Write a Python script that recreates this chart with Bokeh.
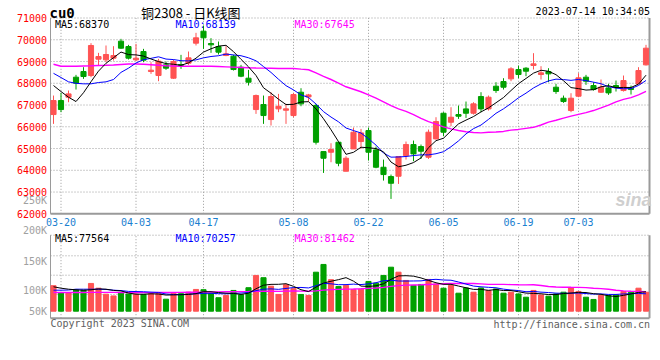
from bokeh.plotting import figure
from bokeh.models import Range1d, Label, ColumnDataSource
from bokeh.core.properties import value
from bokeh.embed import file_html
from bokeh.resources import INLINE

# ---------------- data ----------------
dates = ["03-17", "03-20", "03-21", "03-22", "03-23", "03-24", "03-27", "03-28", "03-29", "03-30", "03-31",
         "04-03", "04-04", "04-06", "04-07", "04-10", "04-11", "04-12", "04-13", "04-14",
         "04-17", "04-18", "04-19", "04-20", "04-21", "04-24", "04-25", "04-26", "04-27", "04-28",
         "05-04", "05-05", "05-08", "05-09", "05-10", "05-11", "05-12", "05-15", "05-16", "05-17", "05-18", "05-19",
         "05-22", "05-23", "05-24", "05-25", "05-26", "05-29", "05-30", "05-31", "06-01", "06-02",
         "06-05", "06-06", "06-07", "06-08", "06-09", "06-12", "06-13", "06-14", "06-15", "06-16",
         "06-19", "06-20", "06-21", "06-26", "06-27", "06-28", "06-29", "06-30",
         "07-03", "07-04", "07-05", "07-06", "07-07", "07-10", "07-11", "07-12", "07-13", "07-14"]

opens = [66562, 67206, 67359, 68279, 68540, 68356, 69107, 69076, 69153, 69935,
         69689, 69076, 69459, 68540, 68356, 68846, 68233, 68862, 68923, 69843,
         70394, 69827, 69689, 69275, 69245, 68739, 68233, 66792, 67022, 66332,
         66823, 66761, 66516, 67589, 67374, 66976, 64860, 64830, 65290, 63956,
         64983, 65321, 65826, 64937, 64140, 63711, 63726, 64677, 65183, 65091,
         64600, 65443, 66623, 66209, 66562, 66822, 66623, 67390, 66822, 67865,
         68080, 68202, 68631, 68693, 68816, 68402, 68540, 67819, 67313, 66746,
         67405, 68279, 67896, 67589, 67788, 67896, 67666, 67773, 67972, 68846]
highs = [67436, 67558, 67666, 68386, 68739, 69843, 69398, 69736, 69705, 70042,
         69766, 69812, 69582, 68969, 69122, 68999, 69092, 69306, 69459, 70318,
         70655, 70073, 69919, 69705, 69306, 68846, 68616, 67482, 67436, 67589,
         67512, 67053, 67558, 67773, 67512, 67053, 64860, 65244, 65321, 64646,
         65965, 65903, 65965, 65091, 64492, 63803, 64631, 65321, 65367, 65183,
         65872, 66439, 66669, 66899, 66976, 67160, 67129, 67589, 67436, 68049,
         68233, 68739, 68815, 68739, 69383, 68785, 68693, 67973, 67436, 67543,
         68463, 68386, 68049, 68172, 67973, 68126, 68356, 67896, 68739, 69766]
lows = [66133, 66670, 67129, 67712, 68202, 68279, 68816, 68969, 69046, 69582,
        69092, 69030, 68969, 68432, 68095, 68616, 68202, 68662, 68846, 69736,
        69582, 69398, 69322, 69245, 68586, 68279, 67896, 66593, 66133, 66056,
        66670, 66133, 66440, 66945, 67160, 65183, 63879, 64370, 64186, 63956,
        64983, 64983, 64447, 64094, 63527, 62684, 63373, 64492, 64416, 64523,
        64523, 65413, 65566, 66025, 66362, 66408, 66562, 66669, 66746, 67558,
        67712, 68095, 68233, 68325, 68632, 68172, 68049, 67512, 67099, 66669,
        67359, 67926, 67666, 67558, 67466, 67620, 67620, 67482, 67972, 68816]
closes = [67206, 66792, 67512, 68003, 68310, 69736, 69229, 69322, 69275, 69613,
          69153, 69153, 69061, 68601, 69015, 68693, 68999, 68816, 69168, 70088,
          70088, 69766, 69429, 69352, 68632, 68325, 68049, 67436, 66516, 67390,
          66945, 66823, 67482, 67053, 67466, 65290, 64554, 64952, 64324, 64554,
          65750, 65719, 64830, 64140, 63803, 63404, 64631, 65183, 64753, 64876,
          65750, 66240, 65750, 66439, 66485, 66623, 67053, 66822, 67359, 67666,
          67819, 68662, 68402, 68555, 68892, 68478, 68432, 67620, 67160, 67313,
          68249, 68095, 67712, 67819, 67558, 67819, 68126, 67712, 68586, 69613]

ma5 = [67896, 67620, 67359, 67160, 67565, 68071, 68558, 68920, 69174, 69435,
       69318, 69303, 69251, 69116, 68997, 68905, 68874, 68825, 68938, 69153,
       69432, 69585, 69708, 69745, 69453, 69101, 68757, 68359, 67792, 67543,
       67267, 67022, 67031, 67139, 67154, 66823, 66369, 65863, 65317, 64735,
       64827, 65060, 65035, 64999, 64848, 64379, 64162, 64232, 64355, 64569,
       65039, 65360, 65474, 65811, 66133, 66307, 66470, 66684, 66868, 67105,
       67344, 67666, 67982, 68221, 68466, 68598, 68552, 68395, 68116, 67801,
       67755, 67687, 67706, 67838, 67887, 67801, 67807, 67807, 67960, 68371]
ma10 = [68457, 68264, 68066, 67998, 67974, 67974, 68034, 68066, 68172, 68500,
        68695, 68931, 69086, 69145, 69216, 69112, 69089, 69038, 69027, 69075,
        69168, 69230, 69266, 69341, 69303, 69266, 69171, 69033, 68768, 68498,
        68184, 67890, 67695, 67465, 67349, 67045, 66696, 66447, 66228, 65944,
        65825, 65714, 65449, 65158, 64792, 64603, 64611, 64634, 64677, 64709,
        64709, 64761, 64853, 65083, 65351, 65673, 65915, 66079, 66340, 66619,
        66826, 67068, 67333, 67545, 67785, 67971, 68109, 68189, 68169, 68133,
        68176, 68120, 68051, 67977, 67844, 67778, 67747, 67756, 67899, 68129]
ma30 = [68876, 68784, 68784, 68784, 68793, 68802, 68816, 68825, 68839, 68862,
        68885, 68885, 68871, 68848, 68825, 68802, 68793, 68784, 68784, 68784,
        68784, 68780, 68770, 68755, 68740, 68725, 68710, 68700, 68695, 68691,
        68682, 68683, 68682, 68651, 68622, 68474, 68318, 68173, 68008, 67839,
        67726, 67611, 67470, 67321, 67148, 66971, 66826, 66705, 66558, 66384,
        66239, 66122, 65999, 65902, 65830, 65774, 65740, 65720, 65748, 65757,
        65786, 65848, 65878, 65928, 65976, 66082, 66212, 66300, 66395, 66487,
        66570, 66649, 66746, 66868, 66993, 67141, 67257, 67341, 67469, 67627]

# volume in thousands of lots
volumes = [102, 74, 74, 85, 84, 111, 92, 68, 61, 74,
           69, 68, 67, 70, 70, 48, 71, 70, 76, 87,
           86, 70, 54, 63, 83, 66, 94, 143, 134, 100,
           67, 106, 90, 67, 63, 156, 187, 126, 99, 103,
           86, 88, 119, 112, 143, 176, 156, 123, 103, 107,
           127, 109, 92, 103, 72, 93, 76, 93, 83, 89,
           72, 76, 69, 56, 83, 65, 60, 69, 76, 93,
           79, 56, 47, 63, 63, 65, 79, 76, 92, 76]
vol_ma5 = [97.6, 92, 88, 85.6, 83.8, 85.6, 89.2, 88, 83.2, 81.2,
           72.8, 68, 67.8, 69.6, 68.8, 64.6, 65.2, 65.8, 67, 70.4,
           78, 77.8, 74.6, 72, 71.2, 67.2, 72, 89.8, 104, 107.4,
           107.6, 110, 99.4, 86, 78.6, 96.4, 112.6, 119.8, 126.2, 134.2,
           120.2, 100.4, 99, 101.6, 109.6, 127.6, 141.2, 142, 140.2, 133,
           123.2, 113.8, 107.6, 107.6, 100.6, 93.8, 87.2, 87.4, 83.4, 86.8,
           82.6, 82.6, 77.8, 72.4, 71.2, 69.8, 66.6, 66.6, 70.6, 72.6,
           75.4, 74.6, 70.2, 67.6, 61.6, 58.8, 63.4, 69.2, 75, 77.6]
vol_ma10 = [84, 84, 84.7, 88, 88, 88, 88, 87, 84, 82.5,
            79.2, 78.6, 77.9, 76.4, 75, 68.7, 66.6, 66.8, 68.3, 69.6,
            71.3, 71.5, 70.2, 69.5, 70.8, 72.6, 74.9, 82.2, 88, 89.3,
            87.4, 91, 94.6, 95, 93, 102, 111.3, 109.6, 106.1, 106.4,
            108.3, 106.5, 109.4, 113.9, 121.9, 123.9, 120.8, 120.5, 120.9, 121.3,
            125.4, 127.5, 124.8, 123.9, 116.8, 108.5, 100.5, 97.5, 95.5, 93.7,
            88.2, 84.9, 82.6, 77.9, 79, 76.2, 74.6, 72.2, 71.5, 71.9,
            72.6, 70.6, 68.4, 69.1, 67.1, 67.1, 69, 69.7, 71.3, 69.6]
vol_ma30 = [75.0, 74.8, 74.6, 74.8, 75.0, 75.2, 75.4, 75.4, 75.2, 75.0,
            74.8, 74.6, 74.4, 74.4, 74.6, 74.8, 75.0, 75.2, 75.6, 76.0,
            76.4, 76.8, 77.2, 77.6, 78.0, 78.4, 78.8, 79.4, 80.0, 80.5,
            79.3, 80.4, 80.9, 80.3, 79.6, 81.1, 84.3, 86.2, 87.5, 88.4,
            89, 89.7, 91.4, 92.8, 95.2, 99.5, 102.3, 104.1, 105, 105.7,
            107, 108.3, 109.6, 110.9, 110.6, 111.5, 110.9, 109.2, 107.5, 107.1,
            107.3, 106.3, 105.6, 105.2, 105.9, 102.9, 98.6, 96.7, 96, 95.6,
            95.4, 94.3, 91.9, 90.3, 87.6, 83.9, 81.4, 79.8, 79.4, 78.4]

tick_labels = ["03-20", "04-03", "04-17", "05-08", "05-22", "06-05", "06-19", "07-03"]
price_ticks = [62000, 63000, 64000, 65000, 66000, 67000, 68000, 69000, 70000, 71000]
vol_axis_labels = ["250K", "200K", "150K", "100K", "50K"]

# ---------------- styling / layout helpers ----------------
UP = "#ff5353"
DOWN = "#00a000"
GRID = "#9a9a9a"
MONO = "DejaVu Sans Mono"
W, H = 652, 352

def xpx(px):          # pixel column -> bar index
    return (px - 53) / 7.5

def ay(py):           # pixel row -> price (price panel scale)
    return 71000 - (py - 17.5) * 9000.0 / 195.8

def bv(py):           # pixel row -> volume in K (volume panel scale)
    return (310.7 - py) * 4.0

x = list(range(len(dates)))
colors = [UP if c >= o else DOWN for o, c in zip(opens, closes)]
src = ColumnDataSource(dict(
    x=x, high=highs, low=lows,
    top=[max(o, c) for o, c in zip(opens, closes)],
    bottom=[min(o, c) for o, c in zip(opens, closes)],
    color=colors, vol=volumes,
    ma5=ma5, ma10=ma10, ma30=ma30,
    vma5=vol_ma5, vma10=vol_ma10, vma30=vol_ma30))

tick_pos = [dates.index(t) for t in tick_labels]
XL, XR = xpx(50), xpx(649)
P_LO, P_HI = price_ticks[0], price_ticks[-1]
V_TOP, V_BOT = bv(234.7), bv(317.7)
vol_grid = [bv(255.3), bv(274.7), bv(294.1)]
vol_label_y = [bv(200.3), bv(230.3), bv(261), bv(290.3), bv(311)]

p = figure(width=W, height=H, x_range=Range1d(xpx(0), xpx(W)), y_range=Range1d(ay(H), ay(0)),
           output_backend="svg", toolbar_location=None, title=None, min_border=0,
           x_axis_location=None, y_axis_location=None)
p.extra_y_ranges = {"vol": Range1d(bv(H), bv(0))}
p.outline_line_color = None
p.grid.grid_line_color = None

def seg(x0, y0, x1, y1, dash="solid", width=1, rng="default"):
    p.segment(x0=x0, y0=y0, x1=x1, y1=y1, line_color=GRID, line_width=width,
              line_dash=dash, y_range_name=rng)

# ---- price panel frame + grid ----
n = len(price_ticks)
seg([XL] * (n - 1), price_ticks[1:], [XR] * (n - 1), price_ticks[1:], dash="1 2")
seg(tick_pos, [P_LO] * len(tick_pos), tick_pos, [P_HI] * len(tick_pos), dash="1 2")
seg([XL], [P_LO], [XL], [P_HI], width=1)
seg([XR], [P_LO], [XR], [P_HI], width=2)
seg([XL], [P_LO], [XR], [P_LO], width=2)

# ---- volume panel frame + grid ----
seg([XL] * 4, [V_TOP] + vol_grid, [XR] * 4, [V_TOP] + vol_grid, dash="1 2", rng="vol")
seg(tick_pos, [V_BOT] * len(tick_pos), tick_pos, [V_TOP] * len(tick_pos), dash="1 2", rng="vol")
seg([XL], [V_BOT], [XL], [V_TOP], width=1, rng="vol")
seg([XR], [V_BOT], [XR], [V_TOP], width=2, rng="vol")
seg([XL], [V_BOT], [XR], [V_BOT], width=2, rng="vol")

# ---- candles ----
p.segment(x0="x", y0="high", x1="x", y1="low", line_color="color", line_width=1, source=src)
p.vbar(x="x", width=0.68, top="top", bottom="bottom", fill_color="color",
       line_color="color", line_width=1, source=src)
p.line("x", "ma30", line_color="#ff00ff", line_width=1.4, source=src)
p.line("x", "ma10", line_color="#0000ff", line_width=1, source=src)
p.line("x", "ma5", line_color="#000000", line_width=1, source=src)

# ---- volume ----
p.vbar(x="x", width=0.68, top="vol", bottom=0, fill_color="color", line_color="color",
       line_width=1, source=src, y_range_name="vol")
p.line("x", "vma30", line_color="#ff00ff", line_width=1.4, source=src, y_range_name="vol")
p.line("x", "vma10", line_color="#0000ff", line_width=1, source=src, y_range_name="vol")
p.line("x", "vma5", line_color="#000000", line_width=1, source=src, y_range_name="vol")

# ---- axis tick labels ----
p.text(x=[xpx(46.5)] * n, y=price_ticks, text=[str(t) for t in price_ticks],
       text_align="right", text_baseline="middle", text_color="#ff0000",
       text_font=value(MONO), text_font_size="10px")
p.text(x=tick_pos, y=[ay(221.5)] * len(tick_pos), text=tick_labels,
       text_align="center", text_baseline="middle", text_color="#1a80d0",
       text_font=value(MONO), text_font_size="10px")
p.text(x=[xpx(46.5)] * len(vol_axis_labels), y=vol_label_y, text=vol_axis_labels,
       text_align="right", text_baseline="middle", text_color="#a0a0a0",
       text_font=value(MONO), text_font_size="10px", y_range_name="vol")

def lab(xx, yy, text, color="#000000", size="10px", font=MONO, align="left", style="normal", rng="default"):
    p.add_layout(Label(x=xx, y=yy, text=text, text_color=color, text_font_size=size,
                       text_font=font, text_align=align, text_baseline="middle",
                       text_font_style=style, y_range_name=rng))

lab(xpx(49), ay(12), "cu0", size="14px", style="bold")
lab(xpx(140.5), ay(11.5), "铜2308 - 日K线图", size="13px", font="Noto Sans CJK SC")
lab(xpx(649.5), ay(11.3), "2023-07-14 10:34:05", align="right")
lab(xpx(54.5), ay(24), "MA5:68370", color="#000000")
lab(xpx(175), ay(24), "MA10:68139", color="#0000ff")
lab(xpx(294), ay(24), "MA30:67645", color="#ff00ff")
lab(xpx(651), ay(199), "sina", color="#cfcfcf", size="18px", font="Liberation Sans",
    align="right", style="bold italic")
lab(xpx(54.5), bv(238.3), "MA5:77564", color="#000000", rng="vol")
lab(xpx(175), bv(238.3), "MA10:70257", color="#0000ff", rng="vol")
lab(xpx(294), bv(238.3), "MA30:81462", color="#ff00ff", rng="vol")
lab(xpx(50), bv(323), "Copyright 2023 SINA.COM", color="#606060", rng="vol")
lab(xpx(649.5), bv(324), "http://finance.sina.com.cn", color="#606060", align="right", rng="vol")

open("out.html", "w").write(file_html(p, INLINE))
